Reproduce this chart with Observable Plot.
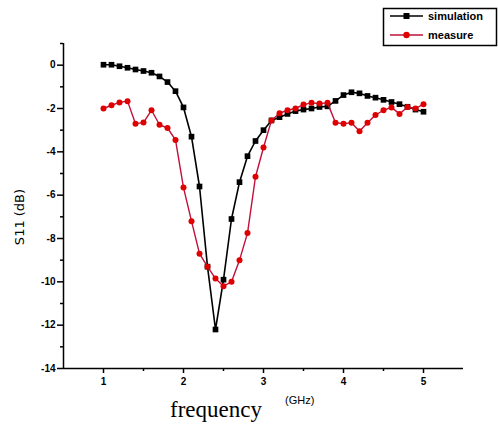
<!DOCTYPE html>
<html><head><meta charset="utf-8">
<script src="https://cdn.jsdelivr.net/npm/d3@7"></script>
<script src="https://cdn.jsdelivr.net/npm/@observablehq/plot@0.6"></script>
<style>body{margin:0;background:#fff}#chart{width:498px;height:430px}</style>
</head><body><div id="chart"></div>
<script>
const freq = [1.0,1.1,1.2,1.3,1.4,1.5,1.6,1.7,1.8,1.9,2.0,2.1,2.2,2.3,2.4,2.5,2.6,2.7,2.8,2.9,3.0,3.1,3.2,3.3,3.4,3.5,3.6,3.7,3.8,3.9,4.0,4.1,4.2,4.3,4.4,4.5,4.6,4.7,4.8,4.9,5.0];
const simulation = [0.02,0.02,-0.05,-0.12,-0.2,-0.27,-0.35,-0.52,-0.78,-1.2,-1.95,-3.3,-5.6,-9.3,-12.2,-9.9,-7.1,-5.4,-4.2,-3.5,-3.0,-2.55,-2.4,-2.25,-2.12,-2.05,-2.0,-1.93,-1.9,-1.65,-1.38,-1.25,-1.3,-1.42,-1.5,-1.6,-1.7,-1.8,-1.92,-2.05,-2.15];
const measure = [-2.0,-1.85,-1.72,-1.66,-2.7,-2.65,-2.08,-2.75,-2.9,-3.45,-5.65,-7.2,-8.7,-9.3,-9.85,-10.2,-10.0,-9.0,-7.75,-5.15,-3.8,-2.55,-2.22,-2.08,-2.0,-1.82,-1.74,-1.77,-1.74,-2.66,-2.7,-2.66,-3.05,-2.66,-2.3,-2.08,-1.95,-2.25,-1.93,-2.0,-1.8];
const seriesNames = ["simulation","measure"];
const xTicks = [1,2,3,4,5];
const xTickLabels = ["1","2","3","4","5"];
const xMinorTicks = [1.5,2.5,3.5,4.5];
const yTicks = [-14,-12,-10,-8,-6,-4,-2,0];
const yMinorTicks = [-13,-11,-9,-7,-5,-3,-1,1];
const xLabel = "frequency";
const xUnit = "(GHz)";
const yLabel = "S11 (dB)";
const colors = {simulation:"#000000", measure:"#e00000"};
const lineColors = {simulation:"#000000", measure:"#c0103a"};

const sim = freq.map((f,i)=>({f, v: simulation[i]}));
const meas = freq.map((f,i)=>({f, v: measure[i]}));

const plot = Plot.plot({
  width: 498, height: 430,
  marginLeft: 63, marginRight: 35, marginTop: 43, marginBottom: 62,
  x: {domain: [0.5, 5.5]},
  y: {domain: [-14, 1]},
  style: {fontFamily: "'Liberation Sans', Arial, sans-serif", fontSize: "10px", fontWeight: "bold", color: "#000", background: "#fff", overflow: "visible"},
  marks: [
    Plot.axisX({ticks: xTicks, tickSize: 5, tickPadding: 4, tickFormat: (d, i) => xTickLabels[i], label: null, strokeWidth: 1.5}),
    Plot.axisX({ticks: xMinorTicks, tickSize: 3, text: null, label: null, strokeWidth: 1.5}),
    Plot.axisY({ticks: yTicks, tickSize: 6, tickPadding: 2, tickFormat: d => String(d), label: null, strokeWidth: 1.5}),
    Plot.axisY({ticks: yMinorTicks, tickSize: 3, text: null, label: null, strokeWidth: 1.5}),
    Plot.ruleX([0.5], {stroke: "#000", strokeWidth: 1.5}),
    Plot.ruleY([-14], {stroke: "#000", strokeWidth: 1.5}),
    Plot.line(sim, {x: "f", y: "v", stroke: lineColors.simulation, strokeWidth: 1.6}),
    Plot.dot(sim, {x: "f", y: "v", symbol: "square", r: 3.2, fill: colors.simulation, stroke: "none"}),
    Plot.line(meas, {x: "f", y: "v", stroke: lineColors.measure, strokeWidth: 1.4}),
    Plot.dot(meas, {x: "f", y: "v", symbol: "circle", r: 3, fill: colors.measure, stroke: "none"})
  ]
});
document.getElementById("chart").appendChild(plot);

const svg = d3.select(plot);
// axis titles
svg.append("text").attr("x", 170).attr("y", 417).attr("text-anchor", "start")
  .style("font-family", "'Liberation Serif', 'Times New Roman', serif").style("font-size", "23px").style("font-weight", "normal")
  .text(xLabel);
svg.append("text").attr("x", 285).attr("y", 404).attr("text-anchor", "start")
  .style("font-family", "'Liberation Sans', Arial, sans-serif").style("font-size", "11px").style("font-weight", "normal")
  .text(xUnit);
svg.append("text").attr("transform", "translate(24,217) rotate(-90)").attr("text-anchor", "middle")
  .style("font-family", "'DejaVu Sans', sans-serif").style("font-size", "13px").style("font-weight", "normal")
  .text(yLabel);

// legend
const lg = svg.append("g");
lg.append("rect").attr("x", 383.5).attr("y", 8.5).attr("width", 113).attr("height", 37)
  .attr("fill", "#fff").attr("stroke", "#000").attr("stroke-width", 1.5);
seriesNames.forEach((name, i) => {
  const y = 16 + i * 19;
  lg.append("line").attr("x1", 390).attr("x2", 423).attr("y1", y).attr("y2", y)
    .attr("stroke", lineColors[name]).attr("stroke-width", 1.5);
  if (name === "simulation") {
    lg.append("rect").attr("x", 403.5).attr("y", y - 3).attr("width", 6).attr("height", 6).attr("fill", colors[name]);
  } else {
    lg.append("circle").attr("cx", 406.5).attr("cy", y).attr("r", 3.2).attr("fill", colors[name]);
  }
  lg.append("text").attr("x", 428).attr("y", y + 4).attr("text-anchor", "start")
    .style("font-family", "'Liberation Sans', Arial, sans-serif").style("font-size", "11px").style("font-weight", "bold")
    .text(name);
});
</script>
</body></html>
